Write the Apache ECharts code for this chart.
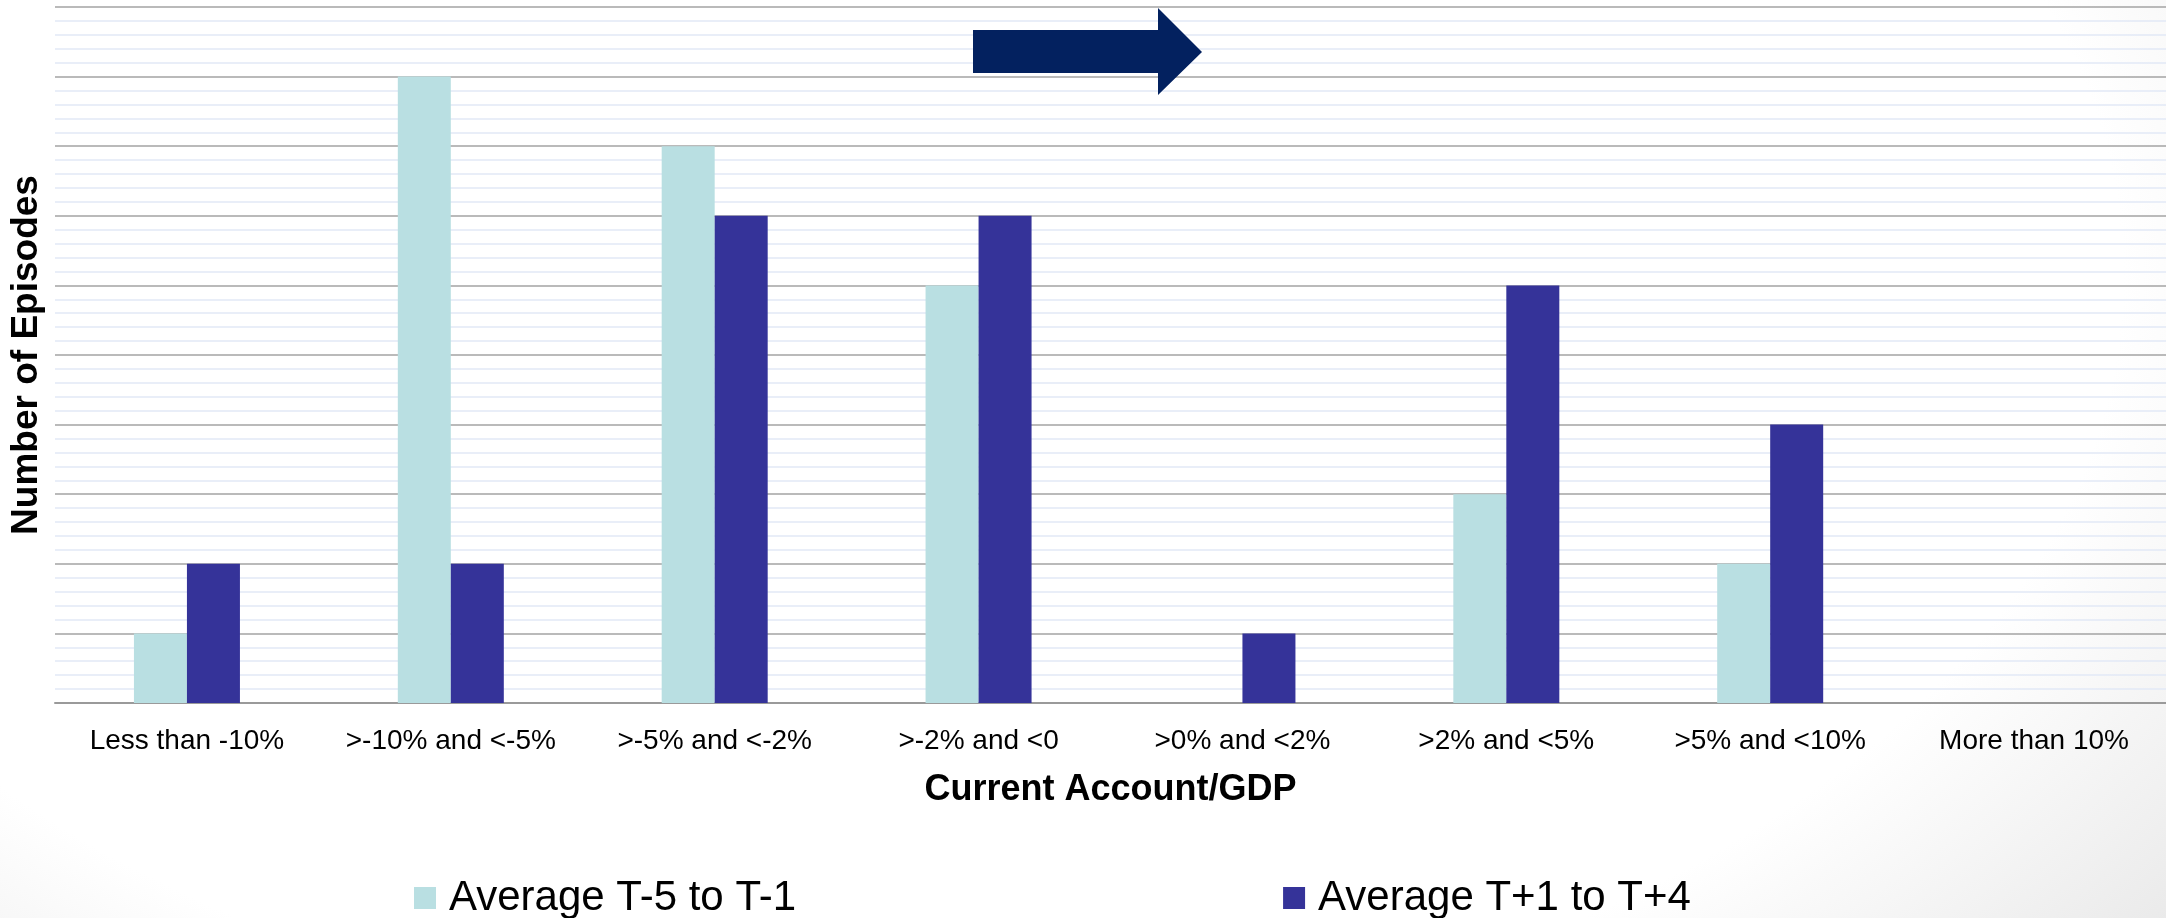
<!DOCTYPE html>
<html>
<head>
<meta charset="utf-8">
<script src="https://cdn.jsdelivr.net/npm/echarts@6/dist/echarts.min.js"></script>
<style>
html, body { margin: 0; padding: 0; }
body {
    width: 2166px;
    height: 918px;
    background: radial-gradient(ellipse 80% 120% at 42% 30%, #ffffff 70%, #e4e4e4 100%);
}
#chart { width: 2166px; height: 918px; }
</style>
</head>
<body>
<div id="chart"></div>
<script>
const categories = ['Less than -10%', '>-10% and <-5%', '>-5% and <-2%', '>-2% and <0', '>0% and <2%', '>2% and <5%', '>5% and <10%', 'More than 10%']
const seriesNames = ['Average T-5 to T-1', 'Average T+1 to T+4']
const before = [1, 9, 8, 6, 0, 3, 2, 0]
const after = [2, 2, 7, 7, 1, 6, 4, 0]

const font = 'Liberation Sans, Arial, sans-serif'
let chart = echarts.init(document.getElementById('chart'), null, { renderer: 'canvas' })

let option = {
    backgroundColor: 'transparent',
    color: ['#b9dfe2', '#353399'],
    grid: { left: 55, right: 0, top: 7, bottom: 215, outerBoundsMode: 'none' },
    legend: {
        data: seriesNames,
        left: 414,
        top: 877,
        padding: 0,
        icon: 'rect',
        itemWidth: 22,
        itemHeight: 22,
        itemGap: 487,
        textStyle: { fontFamily: font, fontSize: 42, color: '#000', padding: [0, 0, 0, 8] }
    },
    xAxis: {
        type: 'category',
        data: categories,
        name: 'Current Account/GDP',
        nameLocation: 'middle',
        nameGap: 69,
        nameTextStyle: { fontFamily: font, fontSize: 36, fontWeight: 'bold', color: '#000', verticalAlign: 'top' },
        axisLine: { lineStyle: { color: '#9a9a9a', width: 2 } },
        axisTick: { show: false },
        axisLabel: { fontFamily: font, fontSize: 28, color: '#000', margin: 24, interval: 0 }
    },
    yAxis: {
        type: 'value',
        min: 0,
        max: 10,
        interval: 1,
        name: 'Number of Episodes',
        nameLocation: 'middle',
        nameGap: 10,
        nameTextStyle: { fontFamily: font, fontSize: 37, fontWeight: 'bold', color: '#000' },
        axisLine: { show: false },
        axisTick: { show: false },
        axisLabel: { show: false },
        splitLine: { lineStyle: { color: '#a3a3a3', width: 1.5 } },
        minorTick: { show: false, splitNumber: 5 },
        minorSplitLine: { show: true, lineStyle: { color: '#e2e9f6', width: 1.5 } }
    },
    series: [
        {
            name: seriesNames[0],
            type: 'bar',
            data: before,
            barWidth: 53,
            barGap: '0%'
        },
        {
            name: seriesNames[1],
            type: 'bar',
            data: after,
            barWidth: 53,
            barGap: '0%'
        }
    ],
    graphic: [
        {
            // direction arrow at the top
            type: 'polygon',
            z: 100,
            shape: { points: [[973, 30], [1158, 30], [1158, 8], [1202, 52], [1158, 95], [1158, 73], [973, 73]] },
            style: { fill: '#03215f' }
        }
    ]
}

chart.setOption(option)
</script>
</body>
</html>
